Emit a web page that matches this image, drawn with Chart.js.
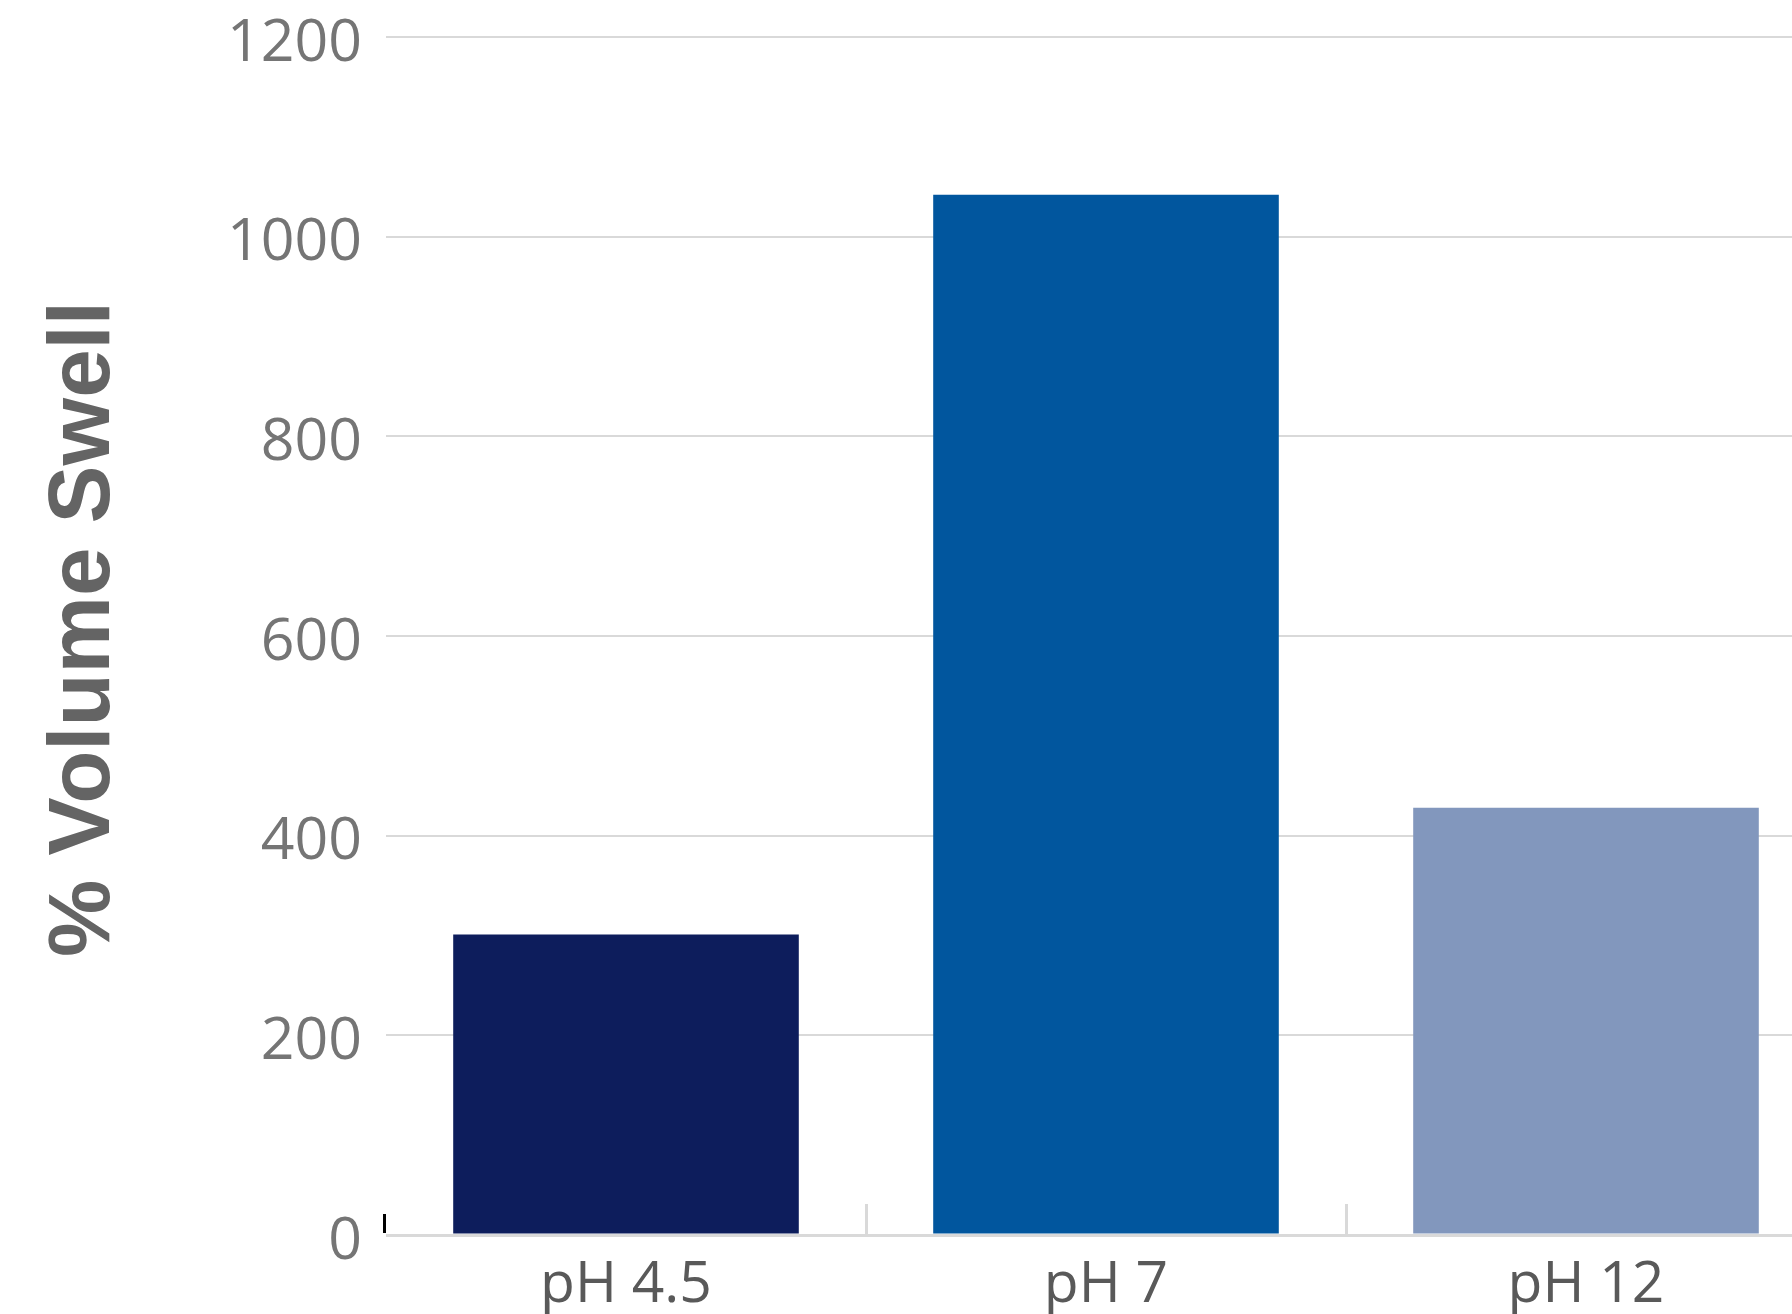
<!DOCTYPE html>
<html>
<head>
<meta charset="utf-8">
<title>% Volume Swell by pH</title>
<script src="https://cdn.jsdelivr.net/npm/chart.js@4/dist/chart.umd.min.js"></script>
<style>
  html, body { margin: 0; padding: 0; background: #ffffff; overflow: hidden; }
  #wrap { position: relative; width: 1830px; height: 1314px; }
</style>
</head>
<body>
<div id="wrap"><canvas id="chart"></canvas></div>
<script>
// Swell measurements per buffer condition
const categories = ['pH 4.5', 'pH 7', 'pH 12'];
const swellValues = [301, 1042, 428];
const barColors = ['#0d1d5c', '#01569e', '#8297bd'];
const yTicks = [0, 200, 400, 600, 800, 1000, 1200];
const yTitle = '% Volume Swell';

// Rotated axis title, separator marks between categories and the small dark tick at the origin
const axisDecor = {
  id: 'axisDecor',
  afterDraw(chart) {
    const { ctx, chartArea, scales } = chart;
    const x = scales.x, y = scales.y;
    const base = y.getPixelForValue(0);
    ctx.save();

    ctx.strokeStyle = '#d9d9d9';
    ctx.lineWidth = 3;
    for (let i = 1; i < categories.length; i++) {
      const bx = (x.getPixelForValue(i - 1) + x.getPixelForValue(i)) / 2;
      ctx.beginPath();
      ctx.moveTo(Math.round(bx) + 0.5, base - 31);
      ctx.lineTo(Math.round(bx) + 0.5, base);
      ctx.stroke();
    }

    ctx.strokeStyle = '#000000';
    ctx.lineWidth = 3;
    ctx.beginPath();
    ctx.moveTo(chartArea.left - 1.5, base - 21);
    ctx.lineTo(chartArea.left - 1.5, base - 2);
    ctx.stroke();

    const midY = (chartArea.top + chartArea.bottom) / 2 - 7;
    ctx.translate(chartArea.left - 277, midY);
    ctx.rotate(-Math.PI / 2);
    ctx.font = 'bold 87px "Liberation Sans", Arial, sans-serif';
    ctx.fillStyle = '#646464';
    ctx.textAlign = 'center';
    ctx.textBaseline = 'alphabetic';
    ctx.fillText(yTitle, 0, 0);
    ctx.restore();
  }
};

new Chart(document.getElementById('chart'), {
  type: 'bar',
  data: {
    labels: categories,
    datasets: [{
      data: swellValues,
      backgroundColor: barColors,
      borderWidth: 0,
      barPercentage: 0.72,
      categoryPercentage: 1.0
    }]
  },
  options: {
    responsive: true,
    maintainAspectRatio: false,
    animation: false,
    layout: { padding: { top: 37, right: 4, left: 0, bottom: 0 } },
    plugins: { legend: { display: false }, tooltip: { enabled: false } },
    scales: {
      x: {
        offset: true,
        afterFit(scale) { scale.height = 79; },
        grid: { display: false, drawTicks: false },
        border: { display: false },
        ticks: {
          color: '#595959',
          padding: 19,
          font: { family: 'Open Sans', size: 57, lineHeight: 1.1 }
        }
      },
      y: {
        min: 0,
        max: 1200,
        afterBuildTicks(scale) { scale.ticks = yTicks.map(v => ({ value: v })); },
        afterFit(scale) { scale.width = 386; },
        grid: {
          color: '#d9d9d9',
          lineWidth: ctx => (ctx.tick && ctx.tick.value === 0 ? 3 : 2),
          drawTicks: false
        },
        border: { display: false },
        ticks: {
          color: '#757575',
          padding: 24,
          labelOffset: 7,
          callback: v => String(v),
          font: { family: 'Open Sans', size: 59, lineHeight: 0.4 }
        }
      }
    }
  },
  plugins: [axisDecor]
});
</script>
</body>
</html>
